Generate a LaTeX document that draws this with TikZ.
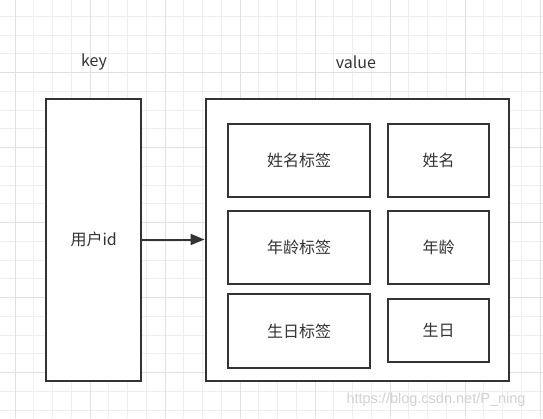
\documentclass[tikz,border=0pt]{standalone}
\usepackage{fontspec}
\setmainfont{Noto Sans CJK SC}
\newfontfamily\urlfont{Liberation Sans}
\usepackage{tikz}
\usetikzlibrary{arrows.meta}

\definecolor{boxline}{HTML}{333333}
\definecolor{gridminor}{HTML}{EEEEEE}
\definecolor{gridmajor}{HTML}{E0E0E0}

\tikzset{
	cell/.style={draw=boxline,line width=2pt,fill=white,text=boxline,font=\fontsize{16}{16}\selectfont,inner sep=0pt},
	title/.style={text=boxline,font=\fontsize{16}{16}\selectfont,inner sep=0pt}
}

\begin{document}
\begin{tikzpicture}[x=1pt,y=-1pt]
						\useasboundingbox (0,0) rectangle (543,418);
						\fill[white] (0,0) rectangle (543,418);
						
						\foreach \i in {0,...,28} \draw[gridminor,line width=1pt] ({-3.75+18.75*\i},0)--({-3.75+18.75*\i},418);
						\foreach \i in {0,...,22} \draw[gridminor,line width=1pt] (0,{-2.3+18.75*\i})--(543,{-2.3+18.75*\i});
						\foreach \i in {0,...,7} \draw[gridmajor,line width=1pt] ({15+75*\i},0)--({15+75*\i},418);
						\foreach \i in {0,...,5} \draw[gridmajor,line width=1pt] (0,{-2.3+75*\i})--(543,{-2.3+75*\i});
						
						\node[title] (keylabel) at (94,62) {key};
						\node[title] (valuelabel) at (356,62) {value};
						
						\node[cell,minimum width=95pt,minimum height=282pt] (key) at (93.75,239.5) {用户id};
						\node[cell,minimum width=303pt,minimum height=282pt] (value) at (357,239.5) {};
						
						\node[cell,minimum width=142pt,minimum height=73pt] (nametag) at (299,160.5) {姓名标签};
						\node[cell,minimum width=142pt,minimum height=73pt] (agetag) at (299,247.5) {年龄标签};
						\node[cell,minimum width=142pt,minimum height=74pt] (birthtag) at (299,331) {生日标签};
						
						\node[cell,minimum width=101pt,minimum height=73pt] (name) at (438.5,160.5) {姓名};
						\node[cell,minimum width=101pt,minimum height=73pt] (age) at (438.5,247.5) {年龄};
						\node[cell,minimum width=101pt,minimum height=63pt] (birth) at (438.5,330.5) {生日};
						
						\draw[boxline,line width=2pt,-{Triangle[length=14pt,width=11pt]}] (key.east)--(value.west);
						
						\node[text=black!18,font=\urlfont\fontsize{14.5}{14.5}\selectfont,inner sep=0pt] (mark) at (436,400) {https://blog.csdn.net/P\_ning};
					\end{tikzpicture}
\end{document}
